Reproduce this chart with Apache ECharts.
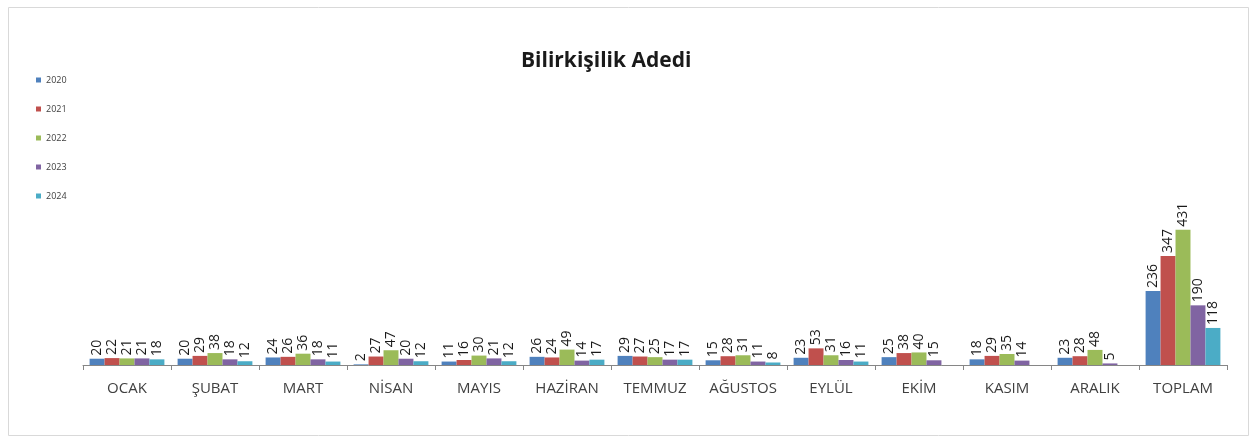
<!DOCTYPE html>
<html><head><meta charset="utf-8">
<script src="https://cdn.jsdelivr.net/npm/echarts@6/dist/echarts.min.js"></script>
<style>html,body{margin:0;padding:0;background:#fff}#c{width:1253px;height:436px}</style>
</head><body><div id="c"></div>
<script>
const categories = ['OCAK','ŞUBAT','MART','NİSAN','MAYIS','HAZİRAN','TEMMUZ','AĞUSTOS','EYLÜL','EKİM','KASIM','ARALIK','TOPLAM'];
const years = ['2020','2021','2022','2023','2024'];
const v2020 = [20,20,24,2,11,26,29,15,23,25,18,23,236];
const v2021 = [22,29,26,27,16,24,27,28,53,38,29,28,347];
const v2022 = [21,38,36,47,30,49,25,31,31,40,35,48,431];
const v2023 = [21,18,18,20,21,14,17,11,16,15,14,5,190];
const v2024 = [18,12,11,12,12,17,17,8,11,null,null,null,118];
const colors = ['#4F81BD','#C0504D','#9BBB59','#8064A2','#4BACC6'];
const values = [v2020,v2021,v2022,v2023,v2024];

const chart = echarts.init(document.getElementById('c'));
chart.setOption({
  animation:false,
  title:{text:'Bilirkişilik Adedi',left:516,top:46,textStyle:{fontFamily:'Open Sans',fontSize:21,fontWeight:'bold',color:'#1a1a1a'}},
  legend:{orient:'vertical',left:31,top:70,itemWidth:5,itemHeight:5,itemGap:19,icon:'rect',
    textStyle:{fontFamily:'Open Sans',fontSize:9,color:'#404040',lineHeight:10},data:years},
  graphic:[{type:'rect',left:6,top:5,shape:{width:1240,height:428},style:{fill:'none',stroke:'#d9d9d9',lineWidth:1},silent:true}],
  grid:{left:83,right:26,top:208,bottom:71},
  xAxis:{type:'category',data:categories,
    axisLine:{lineStyle:{color:'#868686'}},
    axisTick:{show:true,interval:0,length:5,lineStyle:{color:'#868686'}},
    axisLabel:{interval:0,hideOverlap:false,fontFamily:'Open Sans',fontSize:15,color:'#404040',margin:16}},
  yAxis:{type:'value',min:0,max:500,show:false,splitLine:{show:false}},
  series: years.map((y,i)=>({
    name:y,type:'bar',data:values[i],barGap:'0%',barCategoryGap:'15%',
    itemStyle:{color:colors[i]},
    label:{show:true,position:'top',rotate:90,align:'left',verticalAlign:'middle',distance:3,
      fontFamily:'Open Sans',fontSize:14,color:'#1a1a1a'}
  }))
});
</script></body></html>
